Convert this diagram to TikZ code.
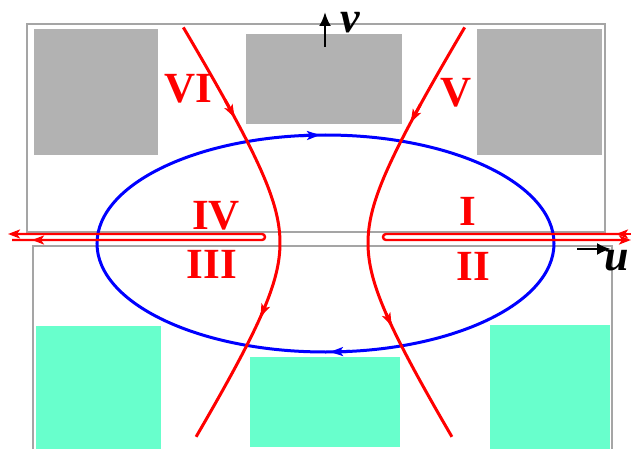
\documentclass[tikz,border=0pt]{standalone}
\usepackage{fontspec}
\setmainfont{Liberation Serif}
\usetikzlibrary{arrows.meta}
\definecolor{panelgray}{RGB}{178,178,178}
\definecolor{framegray}{RGB}{165,165,165}
\definecolor{mint}{RGB}{104,255,204}
\begin{document}
\begin{tikzpicture}[x=1pt,y=-1pt,
  graybox/.style={fill=panelgray},
  mintbox/.style={fill=mint},
  frame/.style={draw=framegray,line width=1.6pt},
  flow/.style={red,line width=3pt},
  orbit/.style={blue,line width=3pt},
  slit/.style={red,line width=2.4pt},
  tipr/.style={-{Stealth[length=13pt,width=9pt,inset=3pt]}},
  tips/.style={-{Stealth[length=12pt,width=9pt,inset=3pt]}},
  numeral/.style={red,font=\fontsize{43}{43}\selectfont\bfseries,inner sep=0pt,anchor=base},
  axislbl/.style={font=\fontsize{44}{44}\selectfont\bfseries\itshape,inner sep=0pt,anchor=base},
  axis/.style={black,line width=2.6pt,-{Latex[length=14pt,width=12pt]}}
]
\useasboundingbox (0,0) rectangle (631,449);
% frames
\draw[frame] (27,24) rectangle (605,232);
\draw[frame] (33,449) -- (33,246) -- (612,246) -- (612,449);
% gray panels
\fill[graybox] (34,29) rectangle (158,155);
\fill[graybox] (246,34) rectangle (402,124);
\fill[graybox] (477,29) rectangle (602,155);
% mint panels
\fill[mintbox] (36,326) rectangle (161,449);
\fill[mintbox] (250,357) rectangle (400,447);
\fill[mintbox] (490,325) rectangle (610,449);
% blue orbit
\draw[orbit] (325.5,243.5) ellipse[x radius=228.5,y radius=108.5];
\draw[orbit,tipr] (300,135.7) -- (320,135.05);
\draw[orbit,tipr] (350,351.4) -- (330,351.9);
% slits
\draw[slit] (12,234) -- (262,234) arc[start angle=-90,end angle=90,radius=3] -- (12,240);
\draw[slit] (627,234) -- (386,234) arc[start angle=-90,end angle=-270,radius=3] -- (625,240);
\draw[slit,tips] (30,234) -- (8,234);
\draw[slit,tips] (54,240) -- (32,240);
\draw[slit,tips] (631,234) -- (616,234);
\draw[slit,tips] (608,240) -- (631,240);
% red flow curves
\draw[flow] plot[domain=-1.83:1.73,samples=90,variable=\t] ({324-44*cosh(\t)},{243+71*sinh(\t)});
\draw[flow] plot[domain=-1.83:1.73,samples=90,variable=\t] ({324+44*cosh(\t)},{243+71*sinh(\t)});
\draw[flow,tipr] plot[domain=-1.45:-1.334,samples=6,variable=\t] ({324-44*cosh(\t)},{243+71*sinh(\t)});
\draw[flow,tipr] plot[domain=0.80:0.912,samples=6,variable=\t] ({324-44*cosh(\t)},{243+71*sinh(\t)});
\draw[flow,tipr] plot[domain=-1.42:-1.30,samples=6,variable=\t] ({324+44*cosh(\t)},{243+71*sinh(\t)});
\draw[flow,tipr] plot[domain=0.88:0.996,samples=6,variable=\t] ({324+44*cosh(\t)},{243+71*sinh(\t)});
% axes
\coordinate (v0) at (325,47);
\coordinate (v1) at (325,12);
\draw[axis] (v0) -- (v1);
\coordinate (u0) at (577,249);
\coordinate (u1) at (611,249);
\draw[axis] (u0) -- (u1);
\node[axislbl] (lv) at (350,33) {v};
\node[axislbl] (lu) at (617,270) {u};
% region labels
\node[numeral] (n6) at (188,103) {VI};
\node[numeral] (n5) at (456,107) {V};
\node[numeral] (n4) at (216,229) {IV};
\node[numeral] (n1) at (468,225) {I};
\node[numeral] (n3) at (212,278) {III};
\node[numeral] (n2) at (473,280) {II};
\end{tikzpicture}
\end{document}
